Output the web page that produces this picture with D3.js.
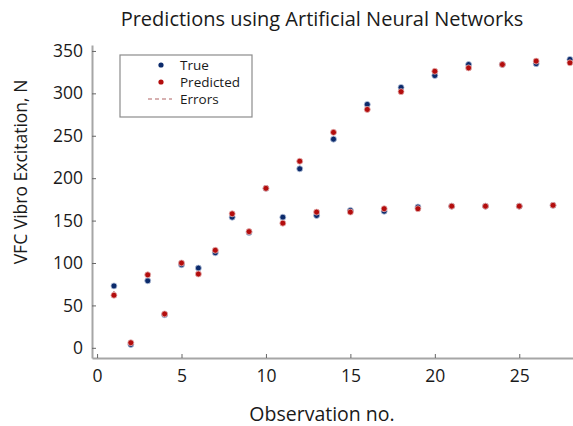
<!DOCTYPE html>
<html>
<head>
<meta charset="utf-8">
<script src="https://cdn.jsdelivr.net/npm/d3@7"></script>
<style>
  body { margin: 0; background: #fff; }
  text { font-family: "Open Sans", sans-serif; fill: #1a1a1a; }
</style>
</head>
<body>
<div id="chart"></div>
<script>
// data
var obs = d3.range(1, 29);
var trueVals = [73, 4, 79, 39, 98, 94, 112, 154, 136, 188, 154, 211, 156, 246, 162, 287, 161, 307, 166, 321, 167, 334, 167, 334, 167, 335, 168, 340];
var predVals = [62, 6, 86, 40, 100, 87, 115, 158, 137, 188, 147, 220, 160, 254, 160, 281, 164, 302, 164, 326, 167, 330, 167, 334, 167, 338, 168, 336];
var xTicks = [0, 5, 10, 15, 20, 25];
var yTicks = [0, 50, 100, 150, 200, 250, 300, 350];

var data = obs.map(function (d, i) {
  return { obs: d, t: trueVals[i], p: predVals[i] };
});

var W = 573, H = 426;
var margin = { top: 45, right: -2, bottom: 68, left: 92 };

var svg = d3.select("#chart")
  .append("svg")
  .attr("width", W)
  .attr("height", H);

var x = d3.scaleLinear()
  .domain([-0.3, 28.3])
  .range([margin.left, W - margin.right]);

var y = d3.scaleLinear()
  .domain([-12, 357])
  .range([H - margin.bottom, margin.top]);

// title
svg.append("text")
  .attr("x", 322)
  .attr("y", 26)
  .attr("text-anchor", "middle")
  .style("font-size", "20px")
  .text("Predictions using Artificial Neural Networks");

// x axis (ticks point inward)
var gx = svg.append("g")
  .attr("transform", "translate(0," + (H - margin.bottom) + ")")
  .call(d3.axisBottom(x).tickValues(xTicks).tickSize(-4).tickPadding(12).tickSizeOuter(0));

// y axis
var gy = svg.append("g")
  .attr("transform", "translate(" + margin.left + ",0)")
  .call(d3.axisLeft(y).tickValues(yTicks).tickSize(-4).tickPadding(9).tickSizeOuter(0));

[gx, gy].forEach(function (g) {
  g.select(".domain").attr("stroke", "#a6a6a6").attr("stroke-width", 2);
  g.selectAll(".tick line").attr("stroke", "#666");
  g.selectAll(".tick text").style("font-size", "17.5px").attr("fill", "#1a1a1a");
});

// axis labels
svg.append("text")
  .attr("x", 322)
  .attr("y", 421)
  .attr("text-anchor", "middle")
  .style("font-size", "19.5px")
  .text("Observation no.");

svg.append("text")
  .attr("transform", "translate(27," + 172 + ") rotate(-90)")
  .attr("text-anchor", "middle")
  .style("font-size", "17.5px")
  .text("VFC Vibro Excitation, N");

// errors
svg.append("g")
  .selectAll("line")
  .data(data)
  .enter()
  .append("line")
  .attr("x1", function (d) { return x(d.obs); })
  .attr("x2", function (d) { return x(d.obs); })
  .attr("y1", function (d) { return y(d.t); })
  .attr("y2", function (d) { return y(d.p); })
  .attr("stroke", "#b06464")
  .attr("stroke-width", 1.2)
  .attr("stroke-dasharray", "3,2");

// true points
svg.append("g")
  .selectAll("circle")
  .data(data)
  .enter()
  .append("circle")
  .attr("cx", function (d) { return x(d.obs); })
  .attr("cy", function (d) { return y(d.t); })
  .attr("r", 3)
  .attr("fill", "#0b2a6b")
  .attr("stroke", "#b8c4dc")
  .attr("stroke-width", 0.8);

// predicted points
svg.append("g")
  .selectAll("circle")
  .data(data)
  .enter()
  .append("circle")
  .attr("cx", function (d) { return x(d.obs); })
  .attr("cy", function (d) { return y(d.p); })
  .attr("r", 3)
  .attr("fill", "#b30d0d")
  .attr("stroke", "#e6b8b8")
  .attr("stroke-width", 0.8);

// legend
var lg = svg.append("g").attr("transform", "translate(120,55)");
lg.append("rect")
  .attr("width", 132)
  .attr("height", 62)
  .attr("fill", "#fff")
  .attr("stroke", "#8c8c8c")
  .attr("stroke-width", 1.2);

var items = ["True", "Predicted", "Errors"];
var itemColors = ["#0b2a6b", "#b30d0d", "#b06464"];
items.forEach(function (name, i) {
  var cy = 10 + i * 17;
  if (i < 2) {
    lg.append("circle")
      .attr("cx", 41)
      .attr("cy", cy)
      .attr("r", 2.6)
      .attr("fill", itemColors[i]);
  } else {
    lg.append("line")
      .attr("x1", 28).attr("x2", 52)
      .attr("y1", cy).attr("y2", cy)
      .attr("stroke", itemColors[i])
      .attr("stroke-width", 1.2)
      .attr("stroke-dasharray", "4,3");
  }
  lg.append("text")
    .attr("x", 60)
    .attr("y", cy + 5)
    .style("font-size", "13.5px")
    .text(name);
});
</script>
</body>
</html>
